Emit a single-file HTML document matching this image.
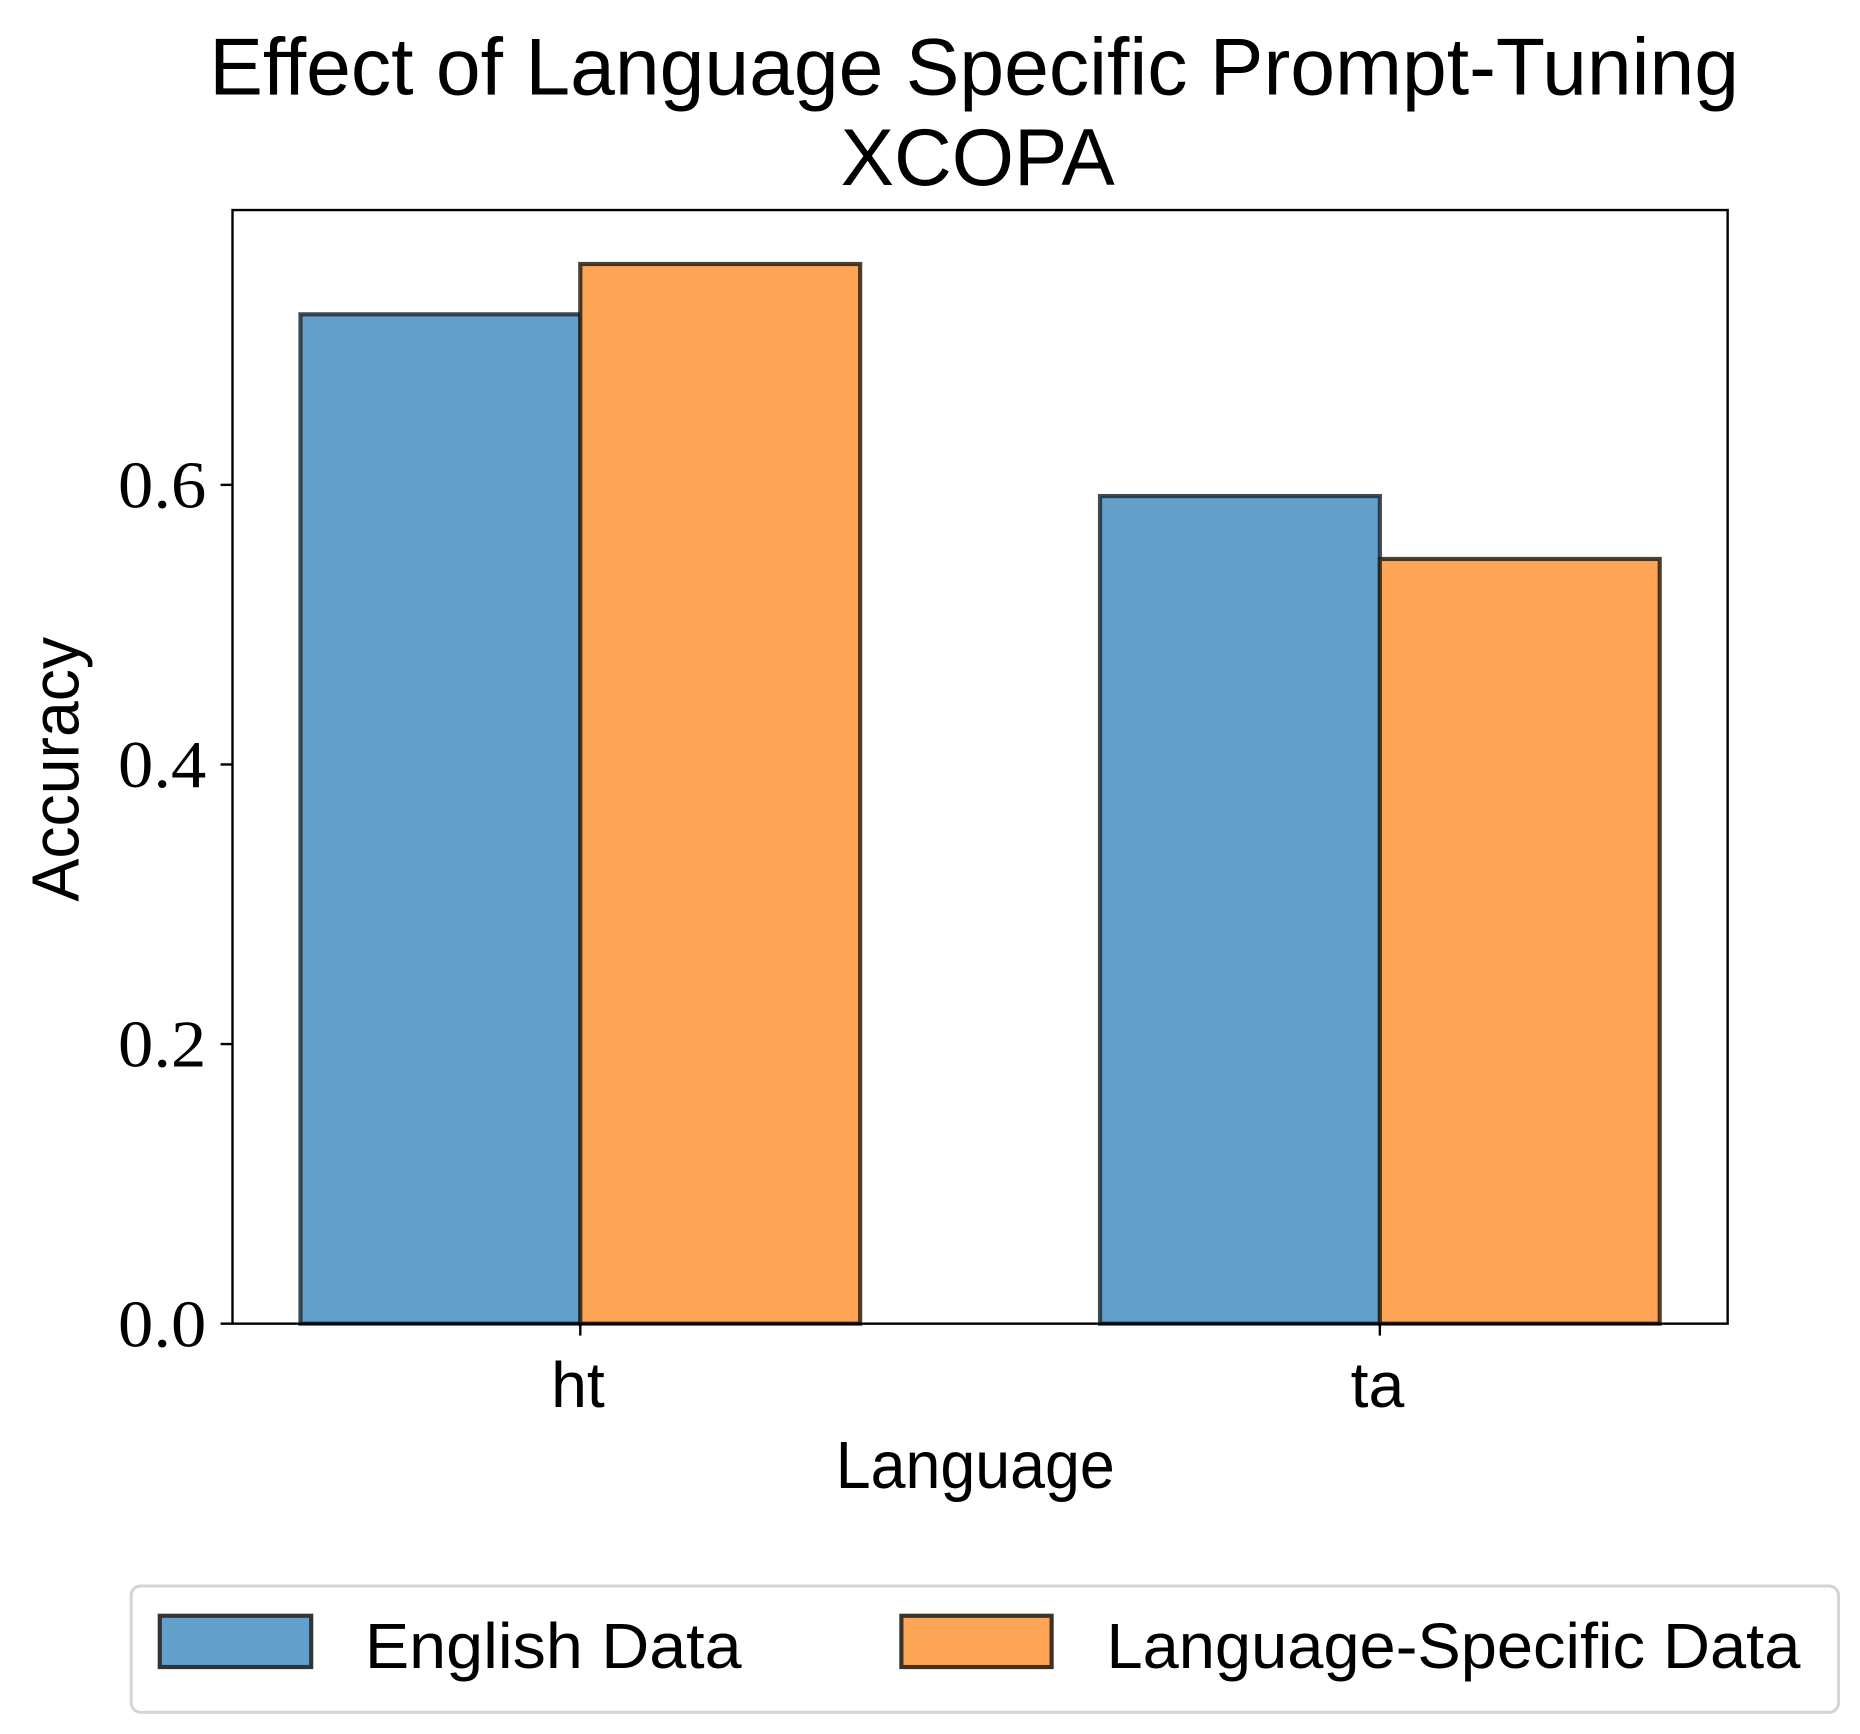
<!DOCTYPE html>
<html><head><meta charset="utf-8"><style>
html,body{margin:0;padding:0;background:#fff;}
svg{display:block;}
text{font-family:"Liberation Sans",sans-serif;fill:#000;}
.serif{font-family:"Liberation Serif",serif;}
</style></head><body>
<svg id="chart" width="1860" height="1734" viewBox="0 0 1560 1454" xmlns="http://www.w3.org/2000/svg">
<rect width="1560" height="1454" fill="#fff"/>
<text x="817" y="79" font-size="68" text-anchor="middle" textLength="1283" lengthAdjust="spacingAndGlyphs">Effect of Language Specific Prompt-Tuning</text>
<text x="820" y="155" font-size="68" text-anchor="middle" textLength="230" lengthAdjust="spacingAndGlyphs">XCOPA</text>
<g id="bars"></g>
<rect x="195" y="176" width="1254" height="934" fill="none" stroke="#000" stroke-width="2"/>
<g id="yticks"></g>
<g id="xticks"></g>
<text x="818" y="1248" font-size="56" text-anchor="middle" textLength="234" lengthAdjust="spacingAndGlyphs">Language</text>
<text transform="translate(66,645) rotate(-90)" font-size="56" text-anchor="middle" textLength="222" lengthAdjust="spacingAndGlyphs">Accuracy</text>
<g>
<rect x="110" y="1330" width="1432" height="106" rx="8" fill="#fff" stroke="#d4d4d4" stroke-width="2.5"/>
<rect x="134" y="1355" width="127" height="43" fill="#639fcb" stroke="#333" stroke-width="3.5"/>
<text x="306" y="1399" font-size="54" textLength="316" lengthAdjust="spacingAndGlyphs">English Data</text>
<rect x="756" y="1355" width="126" height="43" fill="#ffa556" stroke="#3d3226" stroke-width="3.5"/>
<text x="928" y="1399" font-size="54" textLength="582" lengthAdjust="spacingAndGlyphs">Language-Specific Data</text>
</g>
</svg>
<script>
const categories = ["ht", "ta"];
const englishValues = [0.722, 0.592];
const langSpecificValues = [0.758, 0.547];
const yTickValues = [0.0, 0.2, 0.4, 0.6];
const yTickLabels = ["0.0", "0.2", "0.4", "0.6"];

const NS = "http://www.w3.org/2000/svg";
const X0 = 195, X1 = 1449, Y0 = 1110, Y1 = 176;
const xMin = -0.435, xMax = 1.435, yMin = 0, yMax = 0.7966;
const barW = 0.35;
function xs(v){ return X0 + (v - xMin) / (xMax - xMin) * (X1 - X0); }
function ys(v){ return Y0 - (v - yMin) / (yMax - yMin) * (Y0 - Y1); }
function mk(tag, attrs){ const e = document.createElementNS(NS, tag); for (const k in attrs) e.setAttribute(k, attrs[k]); return e; }

const bars = document.getElementById('bars');
categories.forEach((c, i) => {
  const b1 = mk('rect', {x: xs(i - barW), y: ys(englishValues[i]), width: xs(i) - xs(i - barW), height: ys(0) - ys(englishValues[i]), fill: '#639fcb', stroke: '#1f2b36', 'stroke-width': 3.5, 'stroke-opacity': 0.85});
  
  
  bars.appendChild(b1);
  const b2 = mk('rect', {x: xs(i), y: ys(langSpecificValues[i]), width: xs(i + barW) - xs(i), height: ys(0) - ys(langSpecificValues[i]), fill: '#ffa556', stroke: '#2a1e10', 'stroke-width': 3.5, 'stroke-opacity': 0.85});
  
  
  bars.appendChild(b2);
});

const yt = document.getElementById('yticks');
yTickValues.forEach((v, i) => {
  const l = mk('line', {x1: X0 - 10, x2: X0, y1: ys(v), y2: ys(v), stroke: '#000', 'stroke-width': 2});
  
  
  yt.appendChild(l);
  const t = mk('text', {x: X0 - 22, y: ys(v) + 19, 'font-size': 56, 'text-anchor': 'end', class: 'serif', textLength: 74, lengthAdjust: 'spacingAndGlyphs'});
  t.textContent = yTickLabels[i];
  
  
  yt.appendChild(t);
});

const xt = document.getElementById('xticks');
categories.forEach((c, i) => {
  const l = mk('line', {x1: xs(i), x2: xs(i), y1: Y0, y2: Y0 + 10, stroke: '#000', 'stroke-width': 2});
  
  
  xt.appendChild(l);
  const t = mk('text', {x: xs(i) - 2, y: 1180, 'font-size': 54, 'text-anchor': 'middle'});
  t.textContent = c;
  
  
  xt.appendChild(t);
});
</script>
</body></html>
